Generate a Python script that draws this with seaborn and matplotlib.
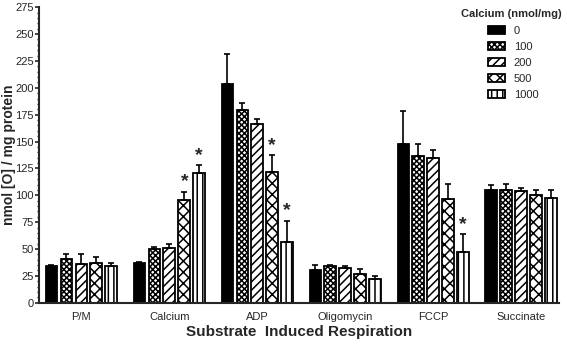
import pandas as pd
import matplotlib
matplotlib.use("Agg")
import matplotlib.pyplot as plt
from matplotlib.ticker import MultipleLocator
import seaborn as sns

# Dados
substratos = ['P/M', 'Calcium', 'ADP', 'Oligomycin', 'FCCP', 'Succinate']
doses = ['0', '100', '200', '500', '1000']

media_0 = [34.4, 37.0, 203.6, 30.7, 148.0, 105.2]
media_100 = [40.4, 50.0, 179.4, 34.2, 136.9, 105.2]
media_200 = [36.3, 51.2, 166.0, 32.0, 135.0, 104.3]
media_500 = [37.0, 95.6, 121.4, 27.0, 96.9, 100.6]
media_1000 = [33.9, 120.8, 56.2, 22.4, 47.5, 97.5]

erro_0 = [0.5, 0.9, 28.2, 4.7, 30.5, 4.7]
erro_100 = [5.2, 1.9, 6.2, 0.9, 11.1, 5.3]
erro_200 = [8.7, 3.8, 4.8, 2.2, 6.9, 2.8]
erro_500 = [5.3, 7.8, 15.8, 4.4, 13.3, 4.3]
erro_1000 = [2.8, 7.4, 20.2, 2.8, 16.5, 7.1]

# asteriscos (substrato, dose)
signif = [('Calcium', '500'), ('Calcium', '1000'), ('ADP', '500'),
          ('ADP', '1000'), ('FCCP', '1000')]

medias = [media_0, media_100, media_200, media_500, media_1000]
erros = [erro_0, erro_100, erro_200, erro_500, erro_1000]

linhas = []
for d, m, e in zip(doses, medias, erros):
    for s, v, er in zip(substratos, m, e):
        linhas.append({'Substrato': s, 'Dose': d, 'Valor': v, 'Erro': er})
df = pd.DataFrame(linhas)

sns.set_theme(style="ticks")
plt.rcParams['font.family'] = ['Liberation Sans', 'DejaVu Sans']
plt.rcParams['hatch.linewidth'] = 1.1
plt.rcParams['hatch.color'] = 'black'

fig = plt.figure(figsize=(5.67, 3.44), dpi=100)
ax = fig.add_axes([0.069, 0.12, 0.917, 0.859])

sns.barplot(data=df, x='Substrato', y='Valor', hue='Dose', order=substratos,
            hue_order=doses, errorbar=None, width=0.85, gap=0.22,
            edgecolor='black', linewidth=1.3, ax=ax, legend=False)

hachuras = ['', 'xxxxxx', '////', 'xxx', '|||']
faces = ['black', 'white', 'white', 'white', 'white']
for cont, h, fc, d in zip(ax.containers, hachuras, faces, doses):
    for barra, s in zip(cont.patches, substratos):
        barra.set_facecolor(fc)
        barra.set_hatch(h)
        linha = df[(df['Substrato'] == s) & (df['Dose'] == d)].iloc[0]
        xc = barra.get_x() + barra.get_width() / 2
        topo = barra.get_height()
        ax.errorbar(xc, topo, yerr=[[0], [linha['Erro']]], color='black',
                    lw=1.2, capsize=2.5, capthick=1.2, zorder=1)
        if (s, d) in signif:
            ax.text(xc, topo + linha['Erro'] + 1, '*', ha='center', va='bottom',
                    fontsize=14, fontweight='bold')

ax.set_xlim(-0.48, 5.43)
ax.set_ylim(0, 275)
ax.yaxis.set_major_locator(MultipleLocator(25))
ax.yaxis.set_minor_locator(MultipleLocator(5))
ax.tick_params(axis='y', which='major', length=3, width=1.2, labelsize=8, pad=1)
ax.tick_params(axis='y', which='minor', length=1.5, width=1)
ax.tick_params(axis='x', length=0, labelsize=8, pad=7)
for lado in ['left', 'bottom']:
    ax.spines[lado].set_linewidth(1.5)
sns.despine(ax=ax)

ax.set_ylabel('nmol [O] / mg protein', fontsize=10, fontweight='bold')
ax.yaxis.set_label_coords(-0.044, 0.5)
ax.set_xlabel('Substrate  Induced Respiration', fontsize=11, fontweight='bold', labelpad=2)

ax.legend(ax.containers, doses, loc='upper left', bbox_to_anchor=(0.864, 0.937),
          frameon=False, fontsize=8, handlelength=1.5, handleheight=0.75,
          handletextpad=0.8, labelspacing=0.55, borderpad=0, borderaxespad=0)
ax.text(0.812, 0.977, 'Calcium (nmol/mg)', transform=ax.transAxes,
        fontsize=8, fontweight='bold', va='center', ha='left')

plt.savefig("out.png", dpi=100)
